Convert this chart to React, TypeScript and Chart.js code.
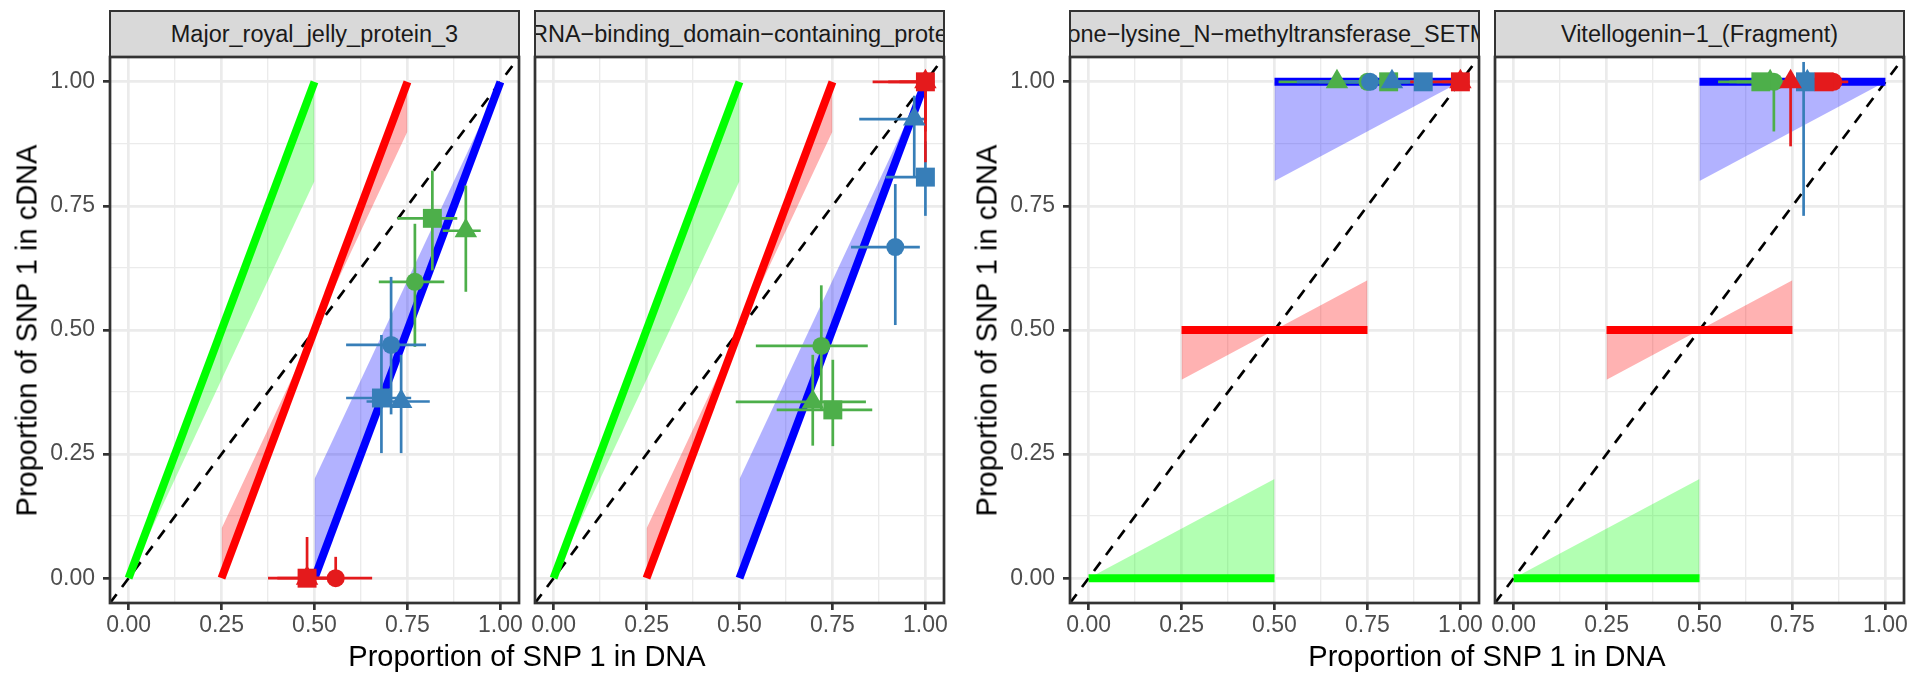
import React, { useEffect, useRef } from 'react';
import { Chart, registerables } from 'chart.js';

Chart.register(...registerables);

const FONT = '"Liberation Sans", Arial, Helvetica, sans-serif';

// ---------- text ----------
const PANEL_TITLES = [
  'Major_royal_jelly_protein_3',
  'RNA\u2212binding_domain\u2212containing_protein',
  'Histone\u2212lysine_N\u2212methyltransferase_SETMAR',
  'Vitellogenin\u22121_(Fragment)',
];
const X_TITLE = 'Proportion of SNP 1 in DNA';
const Y_TITLE = 'Proportion of SNP 1 in cDNA';

// ---------- axes ----------
const AXIS_MIN = -0.05;
const AXIS_MAX = 1.05;
const MAJOR_TICKS = [0, 0.25, 0.5, 0.75, 1];
const MINOR_TICKS = [0.125, 0.375, 0.625, 0.875];
const DIAGONAL = [-0.05, 1.05];

// ---------- expected lines & ribbons (green, red, blue) ----------
const GUIDE_COLORS = ['#00FF00', '#FF0000', '#0000FF'];
const RIBBON_COLORS = ['rgba(0,255,0,0.3)', 'rgba(255,0,0,0.3)', 'rgba(0,0,255,0.3)'];
const GUIDE_X_START = [0, 0.25, 0.5];
const GUIDE_X_END = [0.5, 0.75, 1.0];
// panels 1-2
const LINE_A_Y_START = [0, 0, 0];
const LINE_A_Y_END = [1, 1, 1];
const RIBBON_A_Y_START = [0, 0.1, 0.2];
const RIBBON_A_Y_END = [0.8, 0.9, 1.0];
// panels 3-4
const LINE_B_Y_START = [0, 0.5, 1];
const LINE_B_Y_END = [0, 0.5, 1];
const RIBBON_B_Y_START = [0, 0.4, 0.8];
const RIBBON_B_Y_END = [0.2, 0.6, 1.0];

// ---------- observed points: green (circle, triangle, square), blue (...), red (...) ----------
const POINT_COLORS = ['#4DAF4A', '#4DAF4A', '#4DAF4A', '#377EB8', '#377EB8', '#377EB8', '#E41A1C', '#E41A1C', '#E41A1C'];
const POINT_SHAPES = ['circle', 'triangle', 'rect', 'circle', 'triangle', 'rect', 'circle', 'triangle', 'rect'];

const P1_X = [0.770, 0.907, 0.817, 0.706, 0.733, 0.680, 0.557, 0.480, 0.480];
const P1_Y = [0.597, 0.700, 0.725, 0.470, 0.356, 0.363, 0, 0, 0];
const P1_XLO = [0.673, 0.845, 0.723, 0.585, 0.640, 0.585, 0.460, 0.400, 0.375];
const P1_XHI = [0.849, 0.947, 0.884, 0.800, 0.810, 0.760, 0.655, 0.560, 0.550];
const P1_YLO = [0.466, 0.577, 0.620, 0.330, 0.252, 0.252, 0, 0, 0];
const P1_YHI = [0.714, 0.791, 0.821, 0.607, 0.450, 0.490, 0.043, 0.020, 0.083];

const P2_X = [0.720, 0.697, 0.751, 0.919, 0.970, 1.000, 1.000, 1.000, 1.000];
const P2_Y = [0.468, 0.355, 0.339, 0.667, 0.925, 0.808, 1, 1, 1];
const P2_XLO = [0.544, 0.490, 0.600, 0.800, 0.822, 0.893, 0.900, 0.930, 0.858];
const P2_XHI = [0.845, 0.840, 0.857, 0.985, 1.000, 1.000, 1, 1, 1];
const P2_YLO = [0.340, 0.267, 0.266, 0.510, 0.808, 0.730, 0.900, 0.920, 0.838];
const P2_YHI = [0.590, 0.450, 0.440, 0.794, 0.972, 0.880, 1, 1, 1];

const P3_X = [0.750, 0.668, 0.807, 0.757, 0.816, 0.900, 1, 1, 1];
const P3_Y = [1, 1, 1, 1, 1, 1, 1, 1, 1];
const P3_XLO = [0.620, 0.511, 0.700, 0.560, 0.680, 0.780, 1, 0.950, 0.865];
const P3_XHI = [0.860, 0.800, 0.900, 0.880, 0.930, 1.000, 1, 1, 1];
const P3_YLO = [1, 1, 1, 1, 1, 1, 1, 1, 1];
const P3_YHI = [1, 1, 1, 1, 1, 1, 1, 1, 1];

const P4_X = [0.700, 0.690, 0.665, 0.780, 0.790, 0.785, 0.860, 0.745, 0.835];
const P4_Y = [1, 1, 1, 1, 1, 1, 1, 1, 1];
const P4_XLO = [0.600, 0.580, 0.550, 0.700, 0.700, 0.720, 0.800, 0.700, 0.780];
const P4_XHI = [0.780, 0.760, 0.760, 0.880, 0.880, 0.860, 0.900, 0.800, 0.880];
const P4_YLO = [0.900, 1, 1, 0.730, 1, 1, 1, 0.870, 1];
const P4_YHI = [1, 1, 1, 1.040, 1, 1, 1, 1, 1];

const PANEL_POINTS = [
  [P1_X, P1_Y, P1_XLO, P1_XHI, P1_YLO, P1_YHI],
  [P2_X, P2_Y, P2_XLO, P2_XHI, P2_YLO, P2_YHI],
  [P3_X, P3_Y, P3_XLO, P3_XHI, P3_YLO, P3_YHI],
  [P4_X, P4_Y, P4_XLO, P4_XHI, P4_YLO, P4_YHI],
];

// ---------- layout (pixels) ----------
const W = 1915;
const H = 674;
const PLOT_LEFTS = [110, 535, 1070, 1495];
const PLOT_W = 409;
const PLOT_TOP = 57;
const PLOT_BOTTOM = 603;
const Y_AXIS_W = 110;
const RIGHT_PAD = 30;
const SHOW_Y = [true, false, true, false];
const GROUP_CENTERS = [527, 1487];
const Y_TITLE_X = [27, 987];
const STRIP_TEXT_SHIFT = [0, 9, 0, 0];

const POINT_RADIUS: Record<string, number> = { circle: 9, triangle: 13, rect: 13.4 };

const isMajor = (v: number) => MAJOR_TICKS.some((m) => Math.abs(m - v) < 1e-9);
const ALL_TICKS = [...MAJOR_TICKS, ...MINOR_TICKS].sort((a, b) => a - b);

function buildDatasets(p: number) {
  const ds: any[] = [];
  const lineY0 = p < 2 ? LINE_A_Y_START : LINE_B_Y_START;
  const lineY1 = p < 2 ? LINE_A_Y_END : LINE_B_Y_END;
  const ribY0 = p < 2 ? RIBBON_A_Y_START : RIBBON_B_Y_START;
  const ribY1 = p < 2 ? RIBBON_A_Y_END : RIBBON_B_Y_END;

  // diagonal
  ds.push({
    data: DIAGONAL.map((v) => ({ x: v, y: v })),
    borderColor: '#000000',
    borderWidth: 2.7,
    borderDash: [11, 9],
    borderCapStyle: 'butt',
    pointRadius: 0,
    fill: false,
  });
  // ribbons
  for (let k = 0; k < 3; k++) {
    ds.push({
      data: [
        { x: GUIDE_X_START[k], y: lineY0[k] },
        { x: GUIDE_X_END[k], y: lineY1[k] },
      ],
      borderWidth: 0,
      borderColor: 'rgba(0,0,0,0)',
      pointRadius: 0,
      fill: '+1',
      backgroundColor: RIBBON_COLORS[k],
    });
    ds.push({
      data: [
        { x: GUIDE_X_START[k], y: ribY0[k] },
        { x: GUIDE_X_END[k], y: ribY1[k] },
      ],
      borderWidth: 0,
      borderColor: 'rgba(0,0,0,0)',
      pointRadius: 0,
      fill: false,
    });
  }
  // expected lines
  for (let k = 0; k < 3; k++) {
    ds.push({
      data: [
        { x: GUIDE_X_START[k], y: lineY0[k] },
        { x: GUIDE_X_END[k], y: lineY1[k] },
      ],
      borderColor: GUIDE_COLORS[k],
      borderWidth: 8,
      borderCapStyle: 'butt',
      pointRadius: 0,
      fill: false,
    });
  }
  const [xs, ys, xlo, xhi, ylo, yhi] = PANEL_POINTS[p];
  // error bars
  for (let i = 0; i < xs.length; i++) {
    if (xhi[i] > xlo[i]) {
      ds.push({
        data: [
          { x: xlo[i], y: ys[i] },
          { x: xhi[i], y: ys[i] },
        ],
        borderColor: POINT_COLORS[i],
        borderWidth: 2.7,
        borderCapStyle: 'butt',
        pointRadius: 0,
        fill: false,
      });
    }
    if (yhi[i] > ylo[i]) {
      ds.push({
        data: [
          { x: xs[i], y: ylo[i] },
          { x: xs[i], y: yhi[i] },
        ],
        borderColor: POINT_COLORS[i],
        borderWidth: 2.7,
        borderCapStyle: 'butt',
        pointRadius: 0,
        fill: false,
      });
    }
  }
  // points
  for (let i = 0; i < xs.length; i++) {
    ds.push({
      data: [{ x: xs[i], y: ys[i] }],
      showLine: false,
      pointStyle: POINT_SHAPES[i],
      pointRadius: POINT_RADIUS[POINT_SHAPES[i]],
      pointBackgroundColor: POINT_COLORS[i],
      pointBorderWidth: 0,
      pointBorderColor: 'rgba(0,0,0,0)',
      fill: false,
    });
  }
  // later pushed => drawn on top
  ds.forEach((d, i) => {
    d.order = -i;
    d.clip = 0;
    d.tension = 0;
  });
  return ds;
}

const framePlugin = {
  id: 'panelFrame',
  afterDatasetsDraw(chart: any) {
    const { ctx, chartArea: a } = chart;
    ctx.save();
    ctx.strokeStyle = '#333333';
    ctx.lineWidth = 2.7;
    ctx.strokeRect(a.left, a.top, a.right - a.left, a.bottom - a.top);
    ctx.restore();
  },
};

function axisOptions(isX: boolean, showLabels: boolean) {
  return {
    type: 'linear',
    min: AXIS_MIN,
    max: AXIS_MAX,
    afterBuildTicks: (scale: any) => {
      scale.ticks = ALL_TICKS.map((v) => ({ value: v }));
    },
    afterFit: (scale: any) => {
      if (isX) scale.height = H - PLOT_BOTTOM;
      else scale.width = Y_AXIS_W;
    },
    border: { display: false },
    grid: {
      color: '#EBEBEB',
      lineWidth: (c: any) => (c.tick && isMajor(c.tick.value) ? 2.7 : 1.35),
      drawTicks: true,
      tickLength: 7,
      tickWidth: 2.7,
      tickColor: (c: any) => (showLabels && c.tick && isMajor(c.tick.value) ? '#333333' : 'rgba(0,0,0,0)'),
    },
    ticks: {
      display: showLabels,
      autoSkip: false,
      maxRotation: 0,
      minRotation: 0,
      padding: isX ? 2 : 8,
      color: '#4D4D4D',
      font: { family: FONT, size: 23 },
      callback: (v: any) => (isMajor(Number(v)) ? Number(v).toFixed(2) : ''),
    },
  };
}

function Panel({ p }: { p: number }) {
  const ref = useRef<HTMLCanvasElement>(null);
  const cw = Y_AXIS_W + PLOT_W + RIGHT_PAD;
  useEffect(() => {
    const chart = new Chart(ref.current as HTMLCanvasElement, {
      type: 'line',
      data: { datasets: buildDatasets(p) },
      options: {
        responsive: false,
        maintainAspectRatio: false,
        animation: false,
        events: [],
        layout: { padding: { left: 0, right: RIGHT_PAD, top: PLOT_TOP, bottom: 0 } },
        plugins: { legend: { display: false }, tooltip: { enabled: false }, title: { display: false } },
        scales: {
          x: axisOptions(true, true) as any,
          y: axisOptions(false, SHOW_Y[p]) as any,
        },
      },
      plugins: [framePlugin],
    });
    return () => chart.destroy();
  }, [p]);
  return (
    <canvas
      ref={ref}
      width={cw}
      height={H}
      style={{ position: 'absolute', left: PLOT_LEFTS[p] - Y_AXIS_W, top: 0, width: cw, height: H }}
    />
  );
}

function Strip({ p }: { p: number }) {
  return (
    <div
      style={{
        position: 'absolute',
        left: PLOT_LEFTS[p] - 1.35,
        top: 10.4,
        width: PLOT_W + 2.7,
        height: 48,
        boxSizing: 'border-box',
        border: '2.7px solid #333333',
        background: '#D9D9D9',
        overflow: 'hidden',
        whiteSpace: 'nowrap',
        fontFamily: FONT,
        fontSize: 23.5,
        color: '#1A1A1A',
      }}
    >
      <span
        style={{
          position: 'absolute',
          left: '50%',
          top: '50%',
          lineHeight: '26px',
          transform: `translate(calc(-50% + ${STRIP_TEXT_SHIFT[p]}px), -50%)`,
        }}
      >
        {PANEL_TITLES[p]}
      </span>
    </div>
  );
}

export default function App() {
  return (
    <div
      style={{
        position: 'absolute',
        left: 0,
        top: 0,
        width: W,
        height: H,
        background: '#FFFFFF',
        overflow: 'hidden',
        fontFamily: FONT,
      }}
    >
      {[0, 1, 2, 3].map((p) => (
        <Strip key={'s' + p} p={p} />
      ))}
      {[0, 1, 2, 3].map((p) => (
        <Panel key={'c' + p} p={p} />
      ))}
      {GROUP_CENTERS.map((cx, g) => (
        <div
          key={'xt' + g}
          style={{
            position: 'absolute',
            left: cx - 300,
            top: 656 - 14.5,
            width: 600,
            height: 29,
            lineHeight: '29px',
            textAlign: 'center',
            fontSize: 29,
            color: '#000000',
            whiteSpace: 'nowrap',
          }}
        >
          {X_TITLE}
        </div>
      ))}
      {Y_TITLE_X.map((cx, g) => (
        <div
          key={'yt' + g}
          style={{
            position: 'absolute',
            left: cx - 273,
            top: (PLOT_TOP + PLOT_BOTTOM) / 2 - 14.5,
            width: 546,
            height: 29,
            lineHeight: '29px',
            textAlign: 'center',
            fontSize: 29,
            color: '#000000',
            whiteSpace: 'nowrap',
            transform: 'rotate(-90deg)',
            transformOrigin: 'center center',
          }}
        >
          {Y_TITLE}
        </div>
      ))}
    </div>
  );
}
